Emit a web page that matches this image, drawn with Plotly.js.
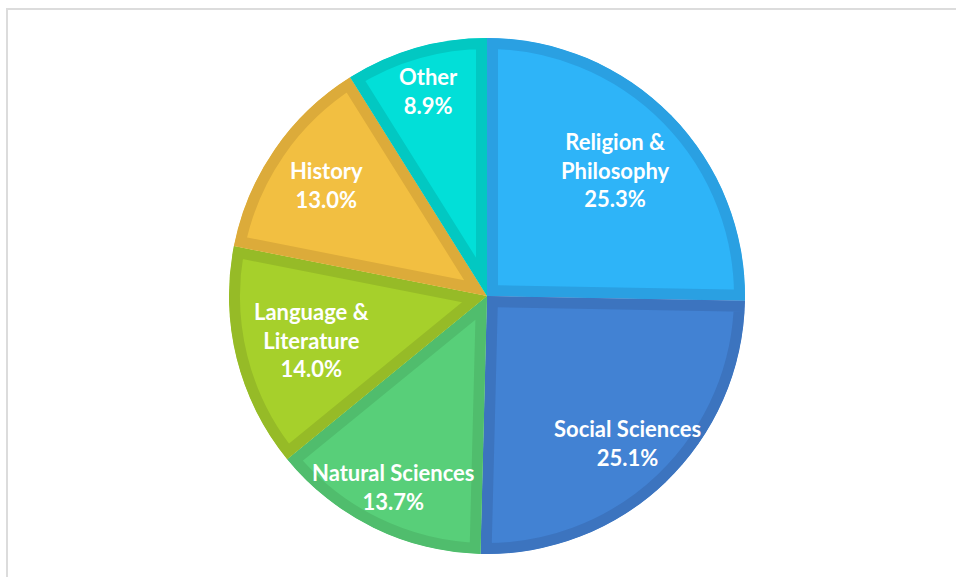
<!DOCTYPE html>
<html>
<head>
<meta charset="utf-8">
<script src="https://cdn.plot.ly/plotly-3.0.1.min.js"></script>
<style>
  html, body { margin: 0; padding: 0; width: 956px; height: 577px; overflow: hidden; background: #fff; }
  #frame { position: absolute; left: 6px; top: 8px; width: 1000px; height: 620px; border: 2px solid #dcdcdc; box-sizing: border-box; }
  #chart { position: absolute; left: 0; top: 0; width: 956px; height: 577px; }
</style>
</head>
<body>
<div id="frame"></div>
<div id="chart"></div>
<script>
const categories = ["Religion &<br>Philosophy", "Social Sciences", "Natural Sciences", "Language &<br>Literature", "History", "Other"];
const shares = [25.3, 25.1, 13.7, 14.0, 13.0, 8.9];
const fillColors = ["#2eb4f8", "#4282d3", "#58cf79", "#a6d02b", "#f2bf41", "#02dfd8"];
const edgeColors = ["#2aa0e2", "#3c74bf", "#50bd6d", "#96bb27", "#dcab3a", "#02c8c2"];
// label placement: fraction of the pie radius along each slice's bisector
const labelRadiusFrac = [0.70, 0.79, 0.823, 0.70, 0.757, 0.826];

const W = 956, H = 577;
const margin = { l: 18, r: 0, t: 38, b: 23 };
const plotW = W - margin.l - margin.r, plotH = H - margin.t - margin.b;
const radiusPx = Math.min(plotW, plotH) / 2;

const total = shares.reduce((a, b) => a + b, 0);
let cum = 0;
const annotations = shares.map(function (v, i) {
  const mid = (cum + v / 2) / total * 2 * Math.PI;
  cum += v;
  const r = radiusPx * labelRadiusFrac[i];
  return {
    xref: "paper", yref: "paper",
    x: 0.5 + r * Math.sin(mid) / plotW,
    y: 0.5 + r * Math.cos(mid) / plotH,
    xanchor: "center", yanchor: "middle",
    showarrow: false, align: "center",
    text: categories[i] + "<br>" + (v / total * 100).toFixed(1) + "%",
    font: { family: "Lato, 'Open Sans', sans-serif", size: 22, color: "#ffffff", weight: "bold" }
  };
});

const trace = {
  type: "pie",
  labels: categories,
  values: shares,
  sort: false,
  direction: "clockwise",
  rotation: 0,
  marker: { colors: fillColors, line: { color: edgeColors, width: 22 } },
  textinfo: "none",
  hoverinfo: "none",
  showlegend: false
};

const layout = {
  width: W, height: H,
  margin: margin,
  paper_bgcolor: "rgba(0,0,0,0)",
  plot_bgcolor: "rgba(0,0,0,0)",
  showlegend: false,
  annotations: annotations
};

Plotly.newPlot("chart", [trace], layout, { staticPlot: true, displayModeBar: false }).then(function (gd) {
  const svg = gd.querySelector("svg.main-svg");
  const ns = "http://www.w3.org/2000/svg";
  let defs = svg.querySelector("defs");
  if (!defs) { defs = document.createElementNS(ns, "defs"); svg.insertBefore(defs, svg.firstChild); }
  gd.querySelectorAll("g.slice path.surface").forEach(function (p, i) {
    const cp = document.createElementNS(ns, "clipPath");
    cp.setAttribute("id", "sliceclip" + i);
    const cpath = document.createElementNS(ns, "path");
    cpath.setAttribute("d", p.getAttribute("d"));
    cp.appendChild(cpath);
    defs.appendChild(cp);
    p.setAttribute("clip-path", "url(#sliceclip" + i + ")");
  });
});
</script>
</body>
</html>
